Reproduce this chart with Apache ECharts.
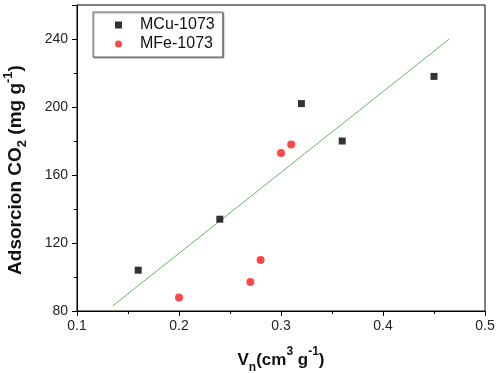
<!DOCTYPE html>
<html>
<head>
<meta charset="utf-8">
<script src="https://cdn.jsdelivr.net/npm/echarts@6/dist/echarts.min.js"></script>
<style>
  html, body { margin: 0; padding: 0; background: #fff; }
  #chart { width: 498px; height: 373px; }
</style>
</head>
<body>
<div id="chart"></div>
<script>
// values
var mcuX = [0.16, 0.24, 0.32, 0.36, 0.45];
var mcuY = [104, 134, 202, 180, 218];
var mfeX = [0.20, 0.27, 0.28, 0.30, 0.31];
var mfeY = [88, 97, 110, 173, 178];
// fitted line end points
var fitX = [0.135, 0.465];
var fitY = [83, 240];

function pairs(xs, ys) {
  return xs.map(function (x, i) { return [x, ys[i]]; });
}

var font = "Arial, 'Liberation Sans', sans-serif";
var chart = echarts.init(document.getElementById("chart"));

// bold name text with sub/superscripts
function nameRich(size, small, lh) {
  return {
    b: { fontFamily: font, fontSize: size, fontWeight: "bold", color: "#111", lineHeight: lh },
    sub: { fontFamily: font, fontSize: small, fontWeight: "bold", color: "#111", verticalAlign: "bottom", lineHeight: lh },
    sup: { fontFamily: font, fontSize: small, fontWeight: "bold", color: "#111", verticalAlign: "top", lineHeight: lh },
  };
}

chart.setOption({
  animation: false,
  grid: {
    left: 77,
    right: 13,
    top: 5,
    bottom: 62,
    outerBoundsMode: "none",
    show: true,
    borderColor: "#000",
    borderWidth: 1,
  },
  legend: {
    orient: "vertical",
    left: 93,
    top: 12,
    data: [
      { name: "MCu-1073", icon: "rect" },
      { name: "MFe-1073", icon: "circle" },
    ],
    itemWidth: 7,
    itemHeight: 7,
    itemGap: 3,
    padding: [5, 8, 5, 22],
    borderColor: "#666",
    borderWidth: 1,
    backgroundColor: "#fff",
    shadowColor: "rgba(0,0,0,0.35)",
    shadowOffsetX: 1,
    shadowOffsetY: 1,
    shadowBlur: 1,
    textStyle: { fontFamily: font, fontSize: 16, color: "#111", padding: [0, 0, 0, 13] },
  },
  xAxis: {
    type: "value",
    min: 0.1,
    max: 0.5,
    interval: 0.1,
    name: "{b|V}{sub|n}{b|(cm}{sup|3}{b| g}{sup|-1}{b|)}",
    nameLocation: "middle",
    nameGap: 35,
    nameTextStyle: { rich: nameRich(17, 12, 28) },
    axisLine: { lineStyle: { color: "#000", width: 1 } },
    axisTick: { show: true, inside: false, length: 5, lineStyle: { color: "#000" } },
    minorTick: { show: true, splitNumber: 2, length: 3, lineStyle: { color: "#000" } },
    splitLine: { show: false },
    axisLabel: { fontFamily: font, fontSize: 14, color: "#222", margin: 8 },
  },
  yAxis: {
    type: "value",
    min: 80,
    max: 260,
    interval: 40,
    name: "{b|Adsorcion CO}{sub|2}{b| (mg g}{sup|-1}{b|)}",
    nameLocation: "middle",
    nameRotate: 90,
    nameGap: 48,
    nameTextStyle: { rich: nameRich(19, 13, 27), padding: [0, 24, 0, 0] },
    axisLine: { show: true, lineStyle: { color: "#000", width: 1 } },
    axisTick: { show: true, inside: false, length: 5, lineStyle: { color: "#000" } },
    minorTick: { show: true, splitNumber: 2, length: 3, lineStyle: { color: "#000" } },
    splitLine: { show: false },
    axisLabel: { fontFamily: font, fontSize: 14, color: "#222", margin: 9, showMaxLabel: false },
  },
  series: [
    {
      name: "fit",
      type: "line",
      data: pairs(fitX, fitY),
      symbol: "none",
      lineStyle: { color: "#3f9f3f", width: 0.8 },
      z: 1,
    },
    {
      name: "MCu-1073",
      type: "scatter",
      data: pairs(mcuX, mcuY),
      symbol: "rect",
      symbolSize: 7,
      itemStyle: { color: "#000" },
      z: 3,
    },
    {
      name: "MFe-1073",
      type: "scatter",
      data: pairs(mfeX, mfeY),
      symbol: "circle",
      symbolSize: 8,
      itemStyle: { color: "#ff1a1a" },
      z: 3,
    },
  ],
});
</script>
</body>
</html>
